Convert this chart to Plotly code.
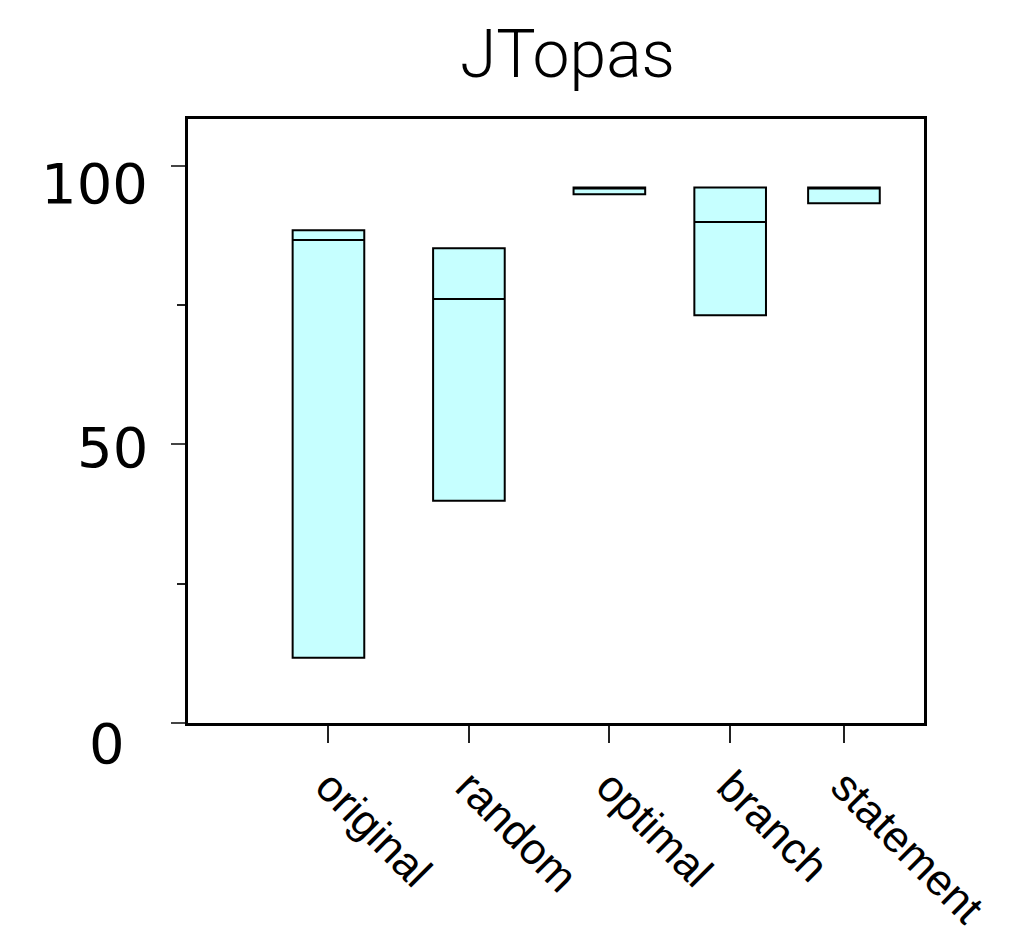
import plotly.graph_objects as go

# ---- data ----
categories = ["original", "random", "optimal", "branch", "statement"]
x_positions = [1.0, 2.0, 3.0, 3.86, 4.67]
q1_values = [11.7, 39.9, 94.9, 73.2, 93.3]
median_values = [86.7, 76.1, 96.1, 89.9, 96.1]
q3_values = [88.45, 85.2, 96.1, 96.1, 96.1]
y_tick_values = [0, 50, 100]
y_tick_labels = ["0", "50", "100"]
title_text = "JTopas"

fig = go.Figure()
fig.add_trace(go.Box(
    x=x_positions,
    q1=q1_values,
    median=median_values,
    q3=q3_values,
    lowerfence=q1_values,
    upperfence=q3_values,
    width=0.51,
    fillcolor="#C6FFFF",
    line=dict(color="black", width=2),
    boxpoints=False,
    hoverinfo="skip",
    showlegend=False,
))

# y tick labels (offsets as in the reference)
label_shifts = {"0": (-61, -20), "50": (-38, -3), "100": (-38, -18)}
for v, t in zip(y_tick_values, y_tick_labels):
    xs, ys = label_shifts[t]
    fig.add_annotation(
        x=0, y=v, xref="x", yref="y", text=t, showarrow=False,
        xanchor="right", yanchor="middle", xshift=xs, yshift=ys,
        font=dict(family="DejaVu Sans, Liberation Sans, sans-serif", size=56, color="black"),
    )

# title
fig.add_annotation(
    x=0.515, y=1, xref="paper", yref="paper", text=title_text, showarrow=False,
    xanchor="center", yanchor="bottom", yshift=24,
    font=dict(family="Roboto, Liberation Sans, sans-serif", size=66, color="black", weight=300),
)

fig.update_layout(
    width=1025, height=936,
    margin=dict(l=180, r=109, t=111, b=221),
    paper_bgcolor="white", plot_bgcolor="white",
)
fig.update_xaxes(
    range=[0, 5.24],
    tickmode="array", tickvals=x_positions, ticktext=categories,
    tickangle=45,
    ticks="outside", ticklen=17, tickwidth=2, tickcolor="#222",
    tickfont=dict(family="Liberation Sans, Arial, sans-serif", size=44, color="black"),
    showline=True, linewidth=3, linecolor="black", mirror=True,
    showgrid=False, zeroline=False,
)
fig.update_yaxes(
    range=[0, 108.4],
    tickmode="array", tickvals=y_tick_values,
    showticklabels=False,
    ticks="outside", ticklen=14, tickwidth=2, tickcolor="#444",
    minor=dict(tickmode="array", tickvals=[25, 75], ticks="outside", ticklen=8, tickwidth=2, tickcolor="#222"),
    showline=True, linewidth=3, linecolor="black", mirror=True,
    showgrid=False, zeroline=False,
)

fig.write_html("out.html")
